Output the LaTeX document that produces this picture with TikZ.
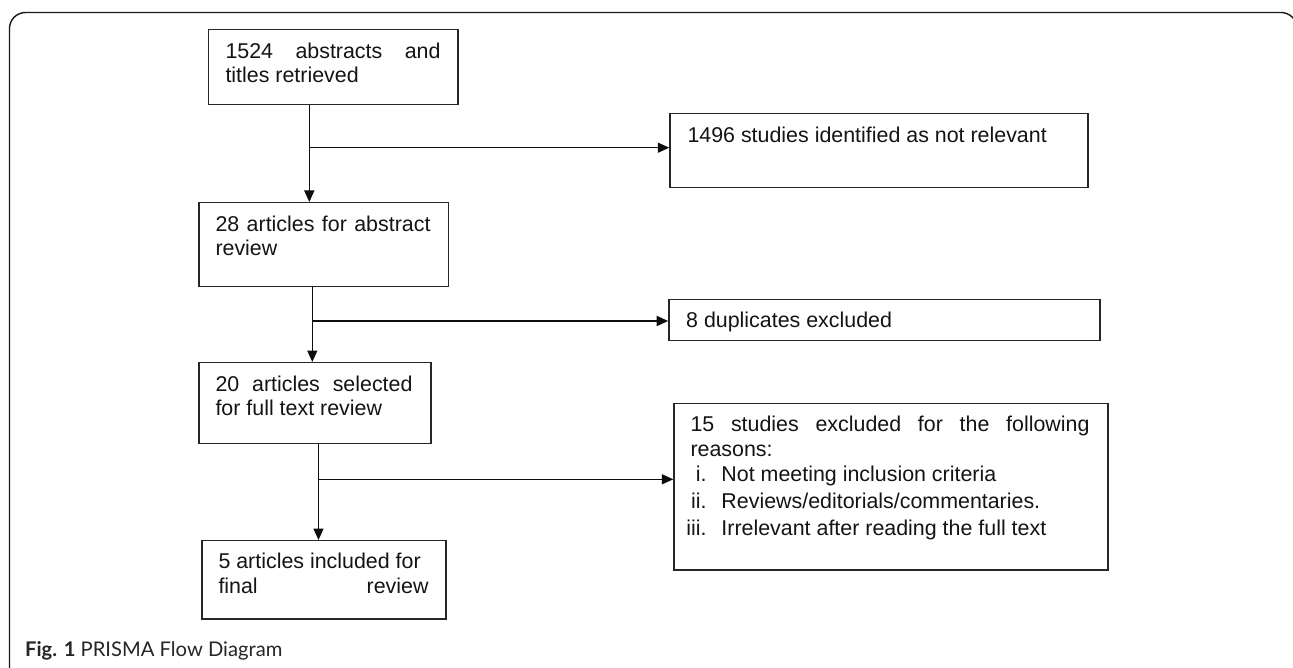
\documentclass[tikz,border=0pt]{standalone}
\usepackage{fontspec}
\setmainfont{Liberation Sans}
\newfontfamily\capfont{Lato}
\usetikzlibrary{arrows.meta,fit,calc}
\newcommand\nohyph{\hyphenpenalty=10000\relax\exhyphenpenalty=10000\relax\tolerance=9999\relax}
\begin{document}
\begin{tikzpicture}[x=1pt,y=-1pt,
  box/.style={draw=black!85,line width=1.4pt,inner sep=0pt},
  txt/.style={anchor=north west,inner sep=0pt,align=justify,text=black!92,
    font=\fontsize{21.4}{24}\selectfont\nohyph},
  conn/.style={line width=1.5pt,draw=black!95},
  arr/.style={conn,-{Triangle[length=11.5pt,width=10pt]}},
  frame/.style={draw=black!90,line width=1.4pt,rounded corners=16pt}]
\clip (0,0) rectangle (1293,668);
\useasboundingbox (0,0) rectangle (1293,668);
\fill[white] (0,0) rectangle (1293,668);
% outer frame
\draw[frame] (9.5,720) |- (1297,12.5) -- (1297,720);
% corner points
\coordinate (p1a) at (208.7,29.3); \coordinate (p1b) at (458,104.3);
\coordinate (p3a) at (670,113.3); \coordinate (p3b) at (1088,187.7);
\coordinate (p2a) at (199,202.7); \coordinate (p2b) at (448.3,286.7);
\coordinate (p5a) at (668.9,299.3); \coordinate (p5b) at (1100,340.7);
\coordinate (p4a) at (199,362.7); \coordinate (p4b) at (431,443.3);
\coordinate (p6a) at (674,403.3); \coordinate (p6b) at (1108,570);
\coordinate (p7a) at (202,540.7); \coordinate (p7b) at (446,619);
% boxes
\node[box,fit=(p1a)(p1b)] (b1) {};
\node[box,fit=(p3a)(p3b)] (b3) {};
\node[box,fit=(p2a)(p2b)] (b2) {};
\node[box,fit=(p5a)(p5b)] (b5) {};
\node[box,fit=(p4a)(p4b)] (b4) {};
\node[box,fit=(p6a)(p6b)] (b6) {};
\node[box,fit=(p7a)(p7b)] (b7) {};
% texts
\node[txt,text width=215pt] (t1) at ($(b1.north west)+(17.3,30-16.8)$) {\strut 1524 abstracts and titles retrieved};
\node[txt,text width=383pt] (t3) at ($(b3.north west)+(18,29.4-16.8)$) {\strut 1496 studies identified as not relevant};
\node[txt,text width=215pt] (t2) at ($(b2.north west)+(17,29-16.8)$) {\strut 28 articles for abstract review};
\node[txt,text width=396pt] (t5) at ($(b5.north west)+(17.8,29-16.8)$) {\strut 8 duplicates excluded};
\node[txt,text width=197pt] (t4) at ($(b4.north west)+(17,29-16.8)$) {\strut 20 articles selected for full text review};
\node[txt,text width=399pt,font=\fontsize{21.4}{25}\selectfont\nohyph] (t6) at ($(b6.north west)+(17,28.7-17.5)$) {\strut 15 studies excluded for the following reasons:\par
\makebox[31pt][r]{i.\hspace{15pt}}Not meeting inclusion criteria\par
\vspace{2pt}\makebox[31pt][r]{ii.\hspace{15pt}}Reviews/editorials/commentaries.\par
\vspace{2pt}\makebox[31pt][r]{iii.\hspace{15pt}}Irrelevant after reading the full text};
\node[txt,text width=210pt] (t7) at ($(b7.north west)+(17,28.5-16.8)$) {\strut 5 articles included for\\[0.5pt] final\hspace{0pt plus 1filll}review};
% connectors
\coordinate (j1) at (309.3,147.7);
\coordinate (j2) at (312.3,321);
\coordinate (j3) at (318.5,479.3);
\draw[arr] (j1 |- b1.south) -- (j1 |- b2.north);
\draw[arr] (j1) -- (j1 -| b3.west);
\draw[arr] (j2 |- b2.south) -- (j2 |- b4.north);
\draw[arr] (j2) -- (j2 -| b5.west);
\draw[arr] (j3 |- b4.south) -- (j3 |- b7.north);
\draw[arr] (j3) -- (j3 -| b6.west);
% caption
\node[anchor=base west,inner sep=0pt,text=black!85,font=\capfont\fontsize{20.2}{23}\selectfont] (cap) at (25,656.7) {\textbf{Fig. 1} PRISMA Flow Diagram};
\end{tikzpicture}
\end{document}
